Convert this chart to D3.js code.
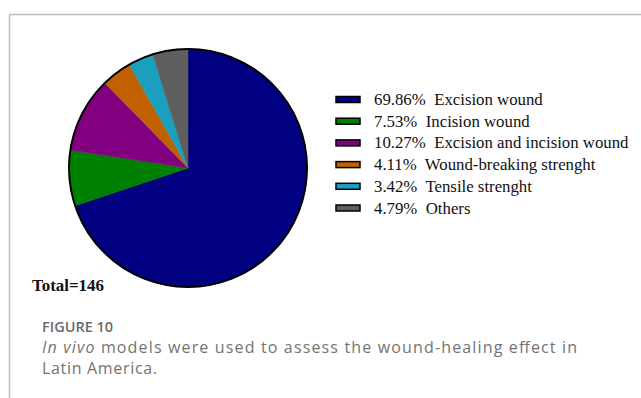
<!DOCTYPE html>
<html>
<head>
<meta charset="utf-8">
<script src="https://cdn.jsdelivr.net/npm/d3@7"></script>
<style>
  html, body { margin: 0; padding: 0; background: #fff; }
  svg { display: block; }
</style>
</head>
<body>
<svg id="chart" width="641" height="398"></svg>
<script>
// Wound-healing in vivo models (n = 146)
const categories = [
  "Excision wound",
  "Incision wound",
  "Excision and incision wound",
  "Wound-breaking strenght",
  "Tensile strenght",
  "Others"
];
const percents = [69.86, 7.53, 10.27, 4.11, 3.42, 4.79];
const colors = ["#000080", "#008000", "#800080", "#c06000", "#1a9fbf", "#5f5f5f"];
const total = 146;

const svg = d3.select("#chart");

// panel frame (top and left rules)
svg.append("line").attr("x1", 9.5).attr("y1", 14.5).attr("x2", 641).attr("y2", 14.5)
  .attr("stroke", "#bdbdbd").attr("stroke-width", 1.5);
svg.append("line").attr("x1", 9.5).attr("y1", 14.5).attr("x2", 9.5).attr("y2", 398)
  .attr("stroke", "#bdbdbd").attr("stroke-width", 1.5);

// pie
const cx = 188, cy = 168, r = 119;
const data = categories.map((c, i) => ({ name: c, value: percents[i], color: colors[i] }));
const pie = d3.pie().value(d => d.value).sort(null);
const arc = d3.arc().innerRadius(0).outerRadius(r);

const g = svg.append("g").attr("transform", `translate(${cx},${cy})`);
g.selectAll("path.slice")
  .data(pie(data))
  .join("path")
  .attr("class", "slice")
  .attr("d", arc)
  .attr("fill", d => d.data.color)
  .attr("stroke", d => d.data.color)
  .attr("stroke-width", 0.5);
g.append("circle").attr("r", r).attr("fill", "none")
  .attr("stroke", "#000").attr("stroke-width", 2);

// legend
const serif = "'Liberation Serif', 'Times New Roman', serif";
const legend = svg.append("g");
const rowY = d3.scaleLinear().domain([0, 1]).range([99.5, 121.2]);
const rows = legend.selectAll("g.row").data(data).join("g")
  .attr("class", "row")
  .attr("transform", (d, i) => `translate(0,${rowY(i)})`);
rows.append("rect")
  .attr("x", 336).attr("y", -3).attr("width", 24).attr("height", 6)
  .attr("fill", d => d.color).attr("stroke", "#000").attr("stroke-width", 1.5);
rows.append("text")
  .attr("x", 374).attr("y", 5.5)
  .attr("font-family", serif)
  .attr("font-size", 16.8)
  .attr("fill", "#111")
  .attr("xml:space", "preserve")
  .style("white-space", "pre")
  .text(d => `${d.value.toFixed(2)}%  ${d.name}`);

// total
svg.append("text")
  .attr("x", 32).attr("y", 291)
  .attr("font-family", serif)
  .attr("font-size", 16.9).attr("font-weight", "bold").attr("fill", "#111")
  .text(`Total=${total}`);

// caption
const capFont = "'Open Sans', 'Noto Sans', sans-serif";
svg.append("text")
  .attr("x", 42).attr("y", 332)
  .attr("font-family", capFont).attr("font-size", 14.5).attr("font-weight", 600)
  .attr("fill", "#6a6a6a")
  .text("FIGURE 10");
const line1 = svg.append("text")
  .attr("x", 42).attr("y", 352.5)
  .attr("font-family", capFont).attr("font-size", 16).attr("font-weight", 400)
  .attr("fill", "#737373")
  .attr("textLength", 535).attr("lengthAdjust", "spacing");
line1.append("tspan").attr("font-style", "italic").text("In vivo");
line1.append("tspan").text(" models were used to assess the wound-healing effect in");
svg.append("text")
  .attr("x", 42).attr("y", 374)
  .attr("font-family", capFont).attr("font-size", 16).attr("font-weight", 400)
  .attr("fill", "#737373")
  .attr("textLength", 115).attr("lengthAdjust", "spacing")
  .text("Latin America.");
</script>
</body>
</html>
